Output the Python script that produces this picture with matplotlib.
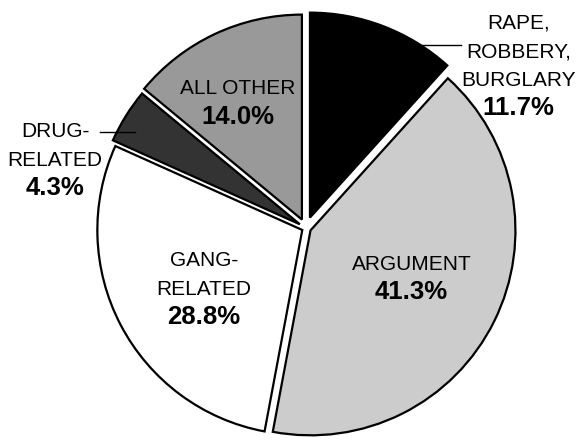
import matplotlib.pyplot as plt

plt.rcParams['font.family'] = ['Liberation Sans', 'DejaVu Sans']

categories = ["RAPE,\nROBBERY,\nBURGLARY", "ARGUMENT", "GANG-\nRELATED",
              "DRUG-\nRELATED", "ALL OTHER"]
percents = [11.7, 41.3, 28.8, 4.3, 14.0]
colors = ["#000000", "#cccccc", "#ffffff", "#333333", "#999999"]
explode = [0.055, 0.025, 0.02, 0.035, 0.046]

# where each label block sits (x centre, baseline of first line)
label_pos = [(1.037, 0.976), (0.515, -0.204), (-0.497, -0.185),
             (-1.224, 0.444), (-0.334, 0.652)]
line_step = 0.142

fig = plt.figure(figsize=(5.77, 4.40), dpi=100)
ax = fig.add_axes([0, 0, 1, 1])

ax.pie(percents, colors=colors, explode=explode, startangle=90,
       counterclock=False, radius=1.0,
       wedgeprops=dict(edgecolor="black", linewidth=1.6, joinstyle="miter"))

for name, pct, (x, y) in zip(categories, percents, label_pos):
    lines = name.split("\n")
    for i, line in enumerate(lines):
        ax.text(x, y - i * line_step, line, ha="center", va="baseline",
                fontsize=15, color="black")
    ax.text(x, y - len(lines) * line_step, f"{pct:.1f}%", ha="center",
            va="baseline", fontsize=18.5, fontweight="bold", color="black")

# leader lines for the labels placed outside the pie
ax.plot([0.548, 0.757], [0.893, 0.893], color="black", linewidth=1)
ax.plot([-1.004, -0.834], [0.471, 0.471], color="black", linewidth=1)

ax.set_xlim(-1.492, 1.322)
ax.set_ylim(-1.034, 1.113)
ax.set_aspect("equal")
ax.axis("off")

fig.savefig("out.png", dpi=100)
